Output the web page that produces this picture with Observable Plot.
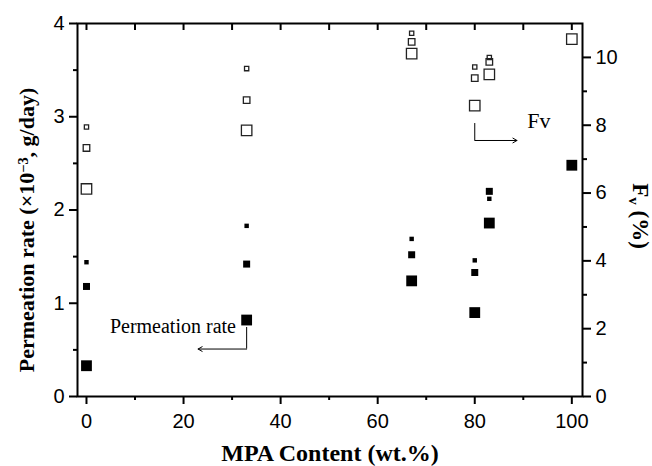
<!DOCTYPE html>
<html><head><meta charset="utf-8">
<script src="https://cdn.jsdelivr.net/npm/d3@7"></script>
<script src="https://cdn.jsdelivr.net/npm/@observablehq/plot@0.6"></script>
<style>
body{margin:0;background:#fff;}
#chart{position:relative;width:652px;height:466px;background:#fff;}
#chart svg{position:absolute;left:0;top:0;}
</style></head><body><div id="chart"></div>
<script>
// MPA content (wt.%)
const mpa = [0, 33, 67, 80, 83, 100];
// Permeation rate (x10^-3 g/day), filled squares: small / medium / large
const permSmall  = [1.44, 1.83, 1.69, 1.46, 2.12, null];
const permMedium = [1.18, 1.42, 1.52, 1.33, 2.20, null];
const permLarge  = [0.33, 0.82, 1.24, 0.90, 1.86, 2.48];
// Fv (%), open squares: small / medium / large
const fvSmall  = [7.95, 9.67, 10.71, 9.72, 10.00, null];
const fvMedium = [7.33, 8.74, 10.46, 9.39, 9.87, null];
const fvLarge  = [6.12, 7.85, 10.11, 8.58, 9.50, 10.54];
// ticks
const xMajor = [0, 20, 40, 60, 80, 100];
const xMinor = [10, 30, 50, 70, 90];
const yLeftMajor = [0, 1, 2, 3, 4];
const yLeftMinor = [0.5, 1.5, 2.5, 3.5];
const yRightMajor = [0, 2, 4, 6, 8, 10];
const yRightMinor = [1, 3, 5, 7, 9];
// labels
const xLabel = "MPA Content (wt.%)";
const yLeftLabelParts = ["Permeation rate (\u00d710", "\u22123", ", g/day)"];
const yRightLabelParts = ["F", "v", " (%)"];
const annPerm = "Permeation rate";
const annFv = "Fv";

const rows = vals => mpa.map((x, i) => ({x, v: vals[i]})).filter(d => d.v != null);

const W = 652, H = 466;
const dims = {width: W, height: H, marginTop: 23, marginRight: 70, marginBottom: 70, marginLeft: 77};
const plotH = H - dims.marginTop - dims.marginBottom;
const xScale = {domain: [-1.85, 102.2], label: null};
const baseStyle = {fontFamily: "'Liberation Sans', Arial, sans-serif", fontSize: "20px", color: "#000", background: "transparent", overflow: "visible"};
const serif = "'Liberation Serif', 'Times New Roman', serif";
const blank = () => "";
const intFmt = d3.format("d");

const filled = (vals, r) => Plot.dot(rows(vals), {x: "x", y: "v", symbol: "square", r, fill: "#000", stroke: null});
const open = (vals, r) => Plot.dot(rows(vals), {x: "x", y: "v", symbol: "square", r, fill: "none", stroke: "#222", strokeWidth: 1.3});

const p1 = Plot.plot({
  ...dims,
  x: xScale,
  y: {domain: [0, 4], label: null},
  style: baseStyle,
  marks: [
    Plot.axisX(xMajor, {tickSize: 8, tickPadding: 9, strokeWidth: 2, label: null, tickFormat: intFmt}),
    Plot.axisX(xMinor, {tickSize: 4, tickFormat: blank, strokeWidth: 2, label: null}),
    Plot.tickX([...xMajor, ...xMinor], {x: d => d, insetBottom: plotH - 7, strokeWidth: 2}),
    Plot.axisY(yLeftMajor, {tickSize: 8, tickPadding: 5, strokeWidth: 2, label: null, tickFormat: intFmt}),
    Plot.axisY(yLeftMinor, {tickSize: 4, tickFormat: blank, strokeWidth: 2, label: null}),
    Plot.frame({strokeWidth: 2}),
    filled(permSmall, 2.5),
    filled(permMedium, 3.95),
    filled(permLarge, 6.1),
    Plot.ruleX([33], {y1: 0.74, y2: 0.509, strokeWidth: 1}),
    Plot.arrow([0], {x1: 33, y1: 0.509, x2: 23, y2: 0.509, strokeWidth: 1, headLength: 7}),
    Plot.text([annPerm], {x: [30.8], y: [0.75], text: d => d, textAnchor: "end", fontFamily: serif, fontSize: 20}),
    Plot.text([xLabel], {text: d => d, frameAnchor: "bottom", dy: 64, fontFamily: serif, fontWeight: "bold", fontSize: 24}),
    Plot.text([yLeftLabelParts.join("")], {text: d => d, frameAnchor: "left", dx: -51, dy: 20, rotate: -90, fontFamily: serif, fontWeight: "bold", fontSize: 22}),
    Plot.text([yRightLabelParts.join("")], {text: d => d, frameAnchor: "right", dx: 58, dy: 6, rotate: 90, fontFamily: serif, fontWeight: "bold", fontSize: 23})
  ]
});

const p2 = Plot.plot({
  ...dims,
  x: {...xScale, axis: null},
  y: {domain: [0, 11], label: null},
  style: baseStyle,
  marks: [
    Plot.axisY(yRightMajor, {anchor: "right", tickSize: 8, tickPadding: 5, strokeWidth: 2, label: null, tickFormat: intFmt}),
    Plot.axisY(yRightMinor, {anchor: "right", tickSize: 4, tickFormat: blank, strokeWidth: 2, label: null}),
    open(fvSmall, 2.4),
    open(fvMedium, 3.7),
    open(fvLarge, 5.9),
    Plot.ruleX([80], {y1: 8.05, y2: 7.55, strokeWidth: 1}),
    Plot.arrow([0], {x1: 80, y1: 7.55, x2: 88.7, y2: 7.55, strokeWidth: 1, headLength: 7}),
    Plot.text([annFv], {x: [90.8], y: [8.14], text: d => d, textAnchor: "start", fontFamily: serif, fontSize: 22})
  ]
});

const host = document.getElementById("chart");
host.appendChild(p1);
host.appendChild(p2);

function scriptify(svg, parts, sup) {
  d3.select(svg).selectAll("text").filter(function() { return this.textContent === parts.join(""); })
    .each(function() {
      const t = d3.select(this);
      t.text(null).attr("text-anchor", "middle");
      t.append("tspan").text(parts[0]);
      t.append("tspan").attr("baseline-shift", sup ? "40%" : "-25%").attr("font-size", "65%").text(parts[1]);
      t.append("tspan").text(parts[2]);
    });
}
scriptify(p1, yLeftLabelParts, true);
scriptify(p1, yRightLabelParts, false);
</script></body></html>
